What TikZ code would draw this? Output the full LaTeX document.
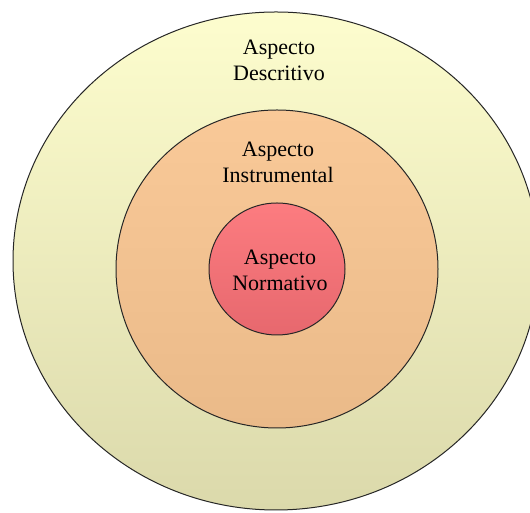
\documentclass[tikz,border=0pt]{standalone}
\usepackage{fontspec}
\setmainfont{Liberation Serif}
\begin{document}
\begin{tikzpicture}[x=1pt,y=1pt,
  ring/.style={draw=black!85, line width=1pt},
  lbl/.style={align=center, font=\fontsize{22}{26}\selectfont, text=black, inner sep=0pt}]
\useasboundingbox (0,0) rectangle (530,513);
\clip (0,0) rectangle (530,513);
\fill[white] (0,0) rectangle (530,513);
\shade[ring, top color={rgb,255:red,253;green,253;blue,206}, bottom color={rgb,255:red,219;green,217;blue,171}]
  (276,252) ellipse [x radius=263, y radius=249];
\shade[ring, top color={rgb,255:red,249;green,201;blue,152}, bottom color={rgb,255:red,234;green,186;blue,137}]
  (277,244) ellipse [x radius=161, y radius=159];
\shade[ring, top color={rgb,255:red,252;green,124;blue,128}, bottom color={rgb,255:red,231;green,104;blue,110}]
  (277,244) ellipse [x radius=68, y radius=66];
\node[lbl] (desc) at (279,453) {Aspecto\\Descritivo};
\node[lbl] (inst) at (278,351) {Aspecto\\Instrumental};
\node[lbl] (norm) at (280,243) {Aspecto\\Normativo};
\end{tikzpicture}
\end{document}
